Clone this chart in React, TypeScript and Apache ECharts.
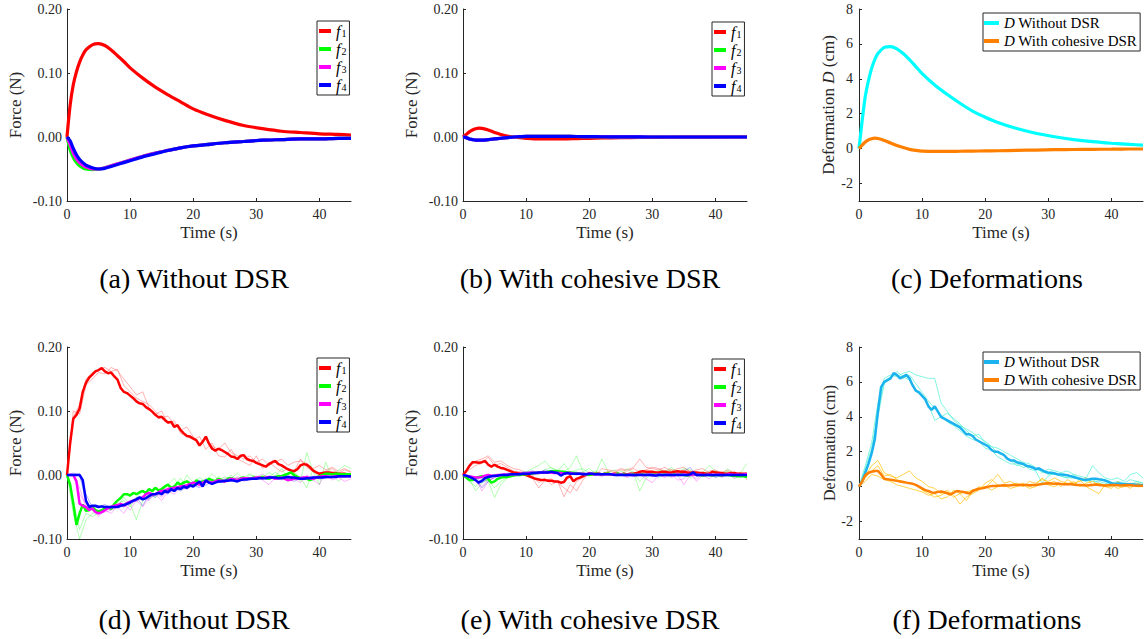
import React, { useEffect, useRef } from "react";
import * as echarts from "echarts";

// ---------- time grids ----------
const T_SMOOTH = [0, 0.5, 1, 1.5, 2, 2.5, 3, 4, 5, 6, 7, 8, 9, 10, 12, 14, 16, 18, 20, 22, 25, 28, 31, 34, 37, 40, 43, 45];
const T_HALF = Array.from({ length: 91 }, (_, i) => i * 0.5);
const T_SEC = Array.from({ length: 46 }, (_, i) => i);

const X_TICKS = [0, 10, 20, 30, 40];
const FORCE_TICKS = [-0.1, 0, 0.1, 0.2];
const DEF_TICKS = [-2, 0, 2, 4, 6, 8];

// ---------- (a) simulation without DSR ----------
const A_F1 = [0, 0.05, 0.082, 0.102, 0.117, 0.128, 0.136, 0.144, 0.146, 0.143, 0.136, 0.127, 0.118, 0.108, 0.092, 0.078, 0.066, 0.055, 0.044, 0.036, 0.026, 0.018, 0.013, 0.009, 0.007, 0.005, 0.004, 0.003];
const A_F2 = [0, -0.02, -0.032, -0.04, -0.045, -0.048, -0.05, -0.051, -0.05, -0.048, -0.045, -0.042, -0.039, -0.036, -0.03, -0.025, -0.021, -0.017, -0.014, -0.012, -0.009, -0.007, -0.005, -0.004, -0.003, -0.003, -0.002, -0.002];
const A_F3 = [0, -0.012, -0.025, -0.034, -0.04, -0.044, -0.047, -0.05, -0.05, -0.048, -0.045, -0.042, -0.039, -0.036, -0.03, -0.025, -0.021, -0.017, -0.014, -0.012, -0.009, -0.007, -0.005, -0.004, -0.003, -0.003, -0.002, -0.002];
const A_F4 = [0, -0.006, -0.018, -0.028, -0.035, -0.04, -0.044, -0.048, -0.05, -0.049, -0.046, -0.043, -0.04, -0.037, -0.031, -0.026, -0.021, -0.017, -0.014, -0.012, -0.009, -0.007, -0.005, -0.004, -0.003, -0.003, -0.002, -0.002];

// ---------- (b) simulation with cohesive DSR ----------
const B_F1 = [0, 0.004, 0.008, 0.011, 0.013, 0.014, 0.0135, 0.011, 0.007, 0.004, 0.0015, 0, -0.001, -0.002, -0.003, -0.003, -0.003, -0.0025, -0.002, -0.0015, -0.001, -0.0008, -0.0005, -0.0003, -0.0002, -0.0001, 0, 0];
const B_F2 = [0, -0.001, -0.003, -0.004, -0.005, -0.005, -0.005, -0.004, -0.003, -0.002, -0.001, 0, 0.0005, 0.001, 0.001, 0.001, 0.001, 0.0008, 0.0006, 0.0004, 0.0002, 0.0001, 0, 0, 0, 0, 0, 0];
const B_F3 = [0, -0.001, -0.003, -0.004, -0.005, -0.005, -0.005, -0.004, -0.003, -0.002, -0.001, 0, 0.0005, 0.001, 0.001, 0.001, 0.001, 0.0008, 0.0006, 0.0004, 0.0002, 0.0001, 0, 0, 0, 0, 0, 0];
const B_F4 = [0, -0.001, -0.003, -0.004, -0.005, -0.005, -0.005, -0.004, -0.003, -0.002, -0.001, 0, 0.0005, 0.001, 0.001, 0.001, 0.001, 0.0008, 0.0006, 0.0004, 0.0002, 0.0001, 0, 0, 0, 0, 0, 0];

// ---------- (c) simulated deformations ----------
const C_WITHOUT = [0, 1.6, 3.0, 3.9, 4.6, 5.1, 5.45, 5.8, 5.85, 5.72, 5.45, 5.1, 4.7, 4.3, 3.65, 3.1, 2.6, 2.15, 1.8, 1.5, 1.15, 0.88, 0.68, 0.52, 0.4, 0.31, 0.24, 0.2];
const C_WITH = [0, 0.2, 0.38, 0.5, 0.57, 0.6, 0.58, 0.47, 0.32, 0.18, 0.06, -0.04, -0.1, -0.14, -0.16, -0.16, -0.15, -0.14, -0.13, -0.12, -0.1, -0.08, -0.06, -0.05, -0.04, -0.03, -0.02, -0.02];

// ---------- (d) experiment without DSR (mean, 0.5 s) ----------
const D_F1 = [0, 0.05, 0.088, 0.094, 0.104, 0.13, 0.144, 0.152, 0.157, 0.162, 0.164, 0.167, 0.162, 0.159, 0.16, 0.154, 0.149, 0.136, 0.13, 0.128, 0.124, 0.12, 0.115, 0.112, 0.111, 0.106, 0.103, 0.099, 0.094, 0.09, 0.091, 0.086, 0.082, 0.083, 0.075, 0.078, 0.07, 0.065, 0.061, 0.06, 0.057, 0.054, 0.046, 0.052, 0.06, 0.049, 0.041, 0.038, 0.041, 0.039, 0.036, 0.033, 0.029, 0.028, 0.025, 0.03, 0.031, 0.025, 0.023, 0.022, 0.019, 0.017, 0.015, 0.013, 0.017, 0.02, 0.022, 0.017, 0.015, 0.012, 0.009, 0.007, 0.006, 0.009, 0.015, 0.017, 0.016, 0.012, 0.007, 0.004, 0.002, 0.003, 0.004, 0.004, 0.003, 0.003, 0.002, 0.002, 0.002, 0.001, 0.001];
const D_F2 = [0, -0.015, -0.045, -0.078, -0.06, -0.046, -0.056, -0.055, -0.05, -0.055, -0.057, -0.055, -0.052, -0.05, -0.053, -0.045, -0.04, -0.036, -0.03, -0.03, -0.032, -0.028, -0.03, -0.027, -0.025, -0.028, -0.022, -0.025, -0.02, -0.024, -0.022, -0.018, -0.015, -0.02, -0.018, -0.012, -0.015, -0.012, -0.01, -0.013, -0.015, -0.008, -0.012, -0.01, -0.01, -0.006, -0.008, -0.01, -0.006, -0.008, -0.01, -0.006, -0.005, -0.007, -0.008, -0.005, -0.004, -0.006, -0.006, -0.004, -0.005, -0.004, -0.003, -0.005, -0.006, -0.004, -0.003, -0.002, -0.002, 0, 0.002, 0.004, 0, -0.003, -0.005, -0.006, -0.006, -0.008, -0.006, -0.004, -0.002, 0, 0.002, 0.002, 0.001, 0.002, 0.002, 0.001, 0.001, 0.001, 0.001];
const D_F3 = [0, 0, 0, -0.01, -0.045, -0.048, -0.05, -0.055, -0.052, -0.058, -0.06, -0.058, -0.055, -0.052, -0.05, -0.048, -0.047, -0.045, -0.048, -0.044, -0.042, -0.04, -0.038, -0.036, -0.035, -0.03, -0.028, -0.03, -0.03, -0.027, -0.025, -0.024, -0.022, -0.021, -0.02, -0.019, -0.018, -0.017, -0.016, -0.014, -0.012, -0.013, -0.015, -0.012, -0.01, -0.011, -0.012, -0.01, -0.008, -0.009, -0.01, -0.008, -0.006, -0.007, -0.008, -0.006, -0.005, -0.005, -0.006, -0.005, -0.004, -0.004, -0.005, -0.004, -0.003, -0.004, -0.006, -0.005, -0.004, -0.006, -0.008, -0.007, -0.006, -0.005, -0.005, -0.004, -0.004, -0.005, -0.006, -0.004, -0.003, -0.002, -0.002, -0.003, -0.003, -0.002, -0.002, -0.002, -0.002, -0.002, -0.002];
const D_F4 = [0, 0, 0, 0, 0, -0.008, -0.04, -0.05, -0.048, -0.048, -0.05, -0.049, -0.05, -0.05, -0.05, -0.05, -0.05, -0.048, -0.047, -0.045, -0.043, -0.04, -0.038, -0.035, -0.038, -0.036, -0.033, -0.03, -0.03, -0.028, -0.03, -0.025, -0.027, -0.022, -0.025, -0.02, -0.022, -0.018, -0.02, -0.016, -0.018, -0.014, -0.01, -0.018, -0.008, -0.012, -0.014, -0.012, -0.01, -0.01, -0.009, -0.009, -0.008, -0.009, -0.01, -0.008, -0.007, -0.007, -0.006, -0.006, -0.006, -0.005, -0.005, -0.005, -0.004, -0.004, -0.004, -0.005, -0.005, -0.004, -0.003, -0.004, -0.004, -0.005, -0.006, -0.006, -0.005, -0.005, -0.004, -0.004, -0.004, -0.004, -0.003, -0.003, -0.003, -0.003, -0.002, -0.002, -0.002, -0.002, -0.002];

// (d) individual trials (1 s)
const D_F1_TRIAL_A = [0, 0.09, 0.11, 0.15, 0.16, 0.165, 0.168, 0.162, 0.165, 0.14, 0.13, 0.12, 0.115, 0.11, 0.1, 0.09, 0.092, 0.08, 0.07, 0.075, 0.06, 0.05, 0.058, 0.045, 0.04, 0.05, 0.035, 0.03, 0.025, 0.03, 0.02, 0.025, 0.015, 0.02, 0.025, 0.015, 0.02, 0.022, 0.018, 0.01, 0.015, 0.008, 0.012, 0.006, 0.01, 0.005];
const D_F1_TRIAL_B = [0, 0.1, 0.095, 0.14, 0.15, 0.16, 0.158, 0.168, 0.163, 0.15, 0.138, 0.125, 0.13, 0.105, 0.095, 0.1, 0.08, 0.085, 0.065, 0.06, 0.055, 0.06, 0.04, 0.05, 0.03, 0.028, 0.04, 0.025, 0.02, 0.015, 0.03, 0.01, 0.02, 0.012, 0.005, 0.01, 0.006, 0.025, 0.012, 0.005, 0.002, 0.006, 0.01, 0.003, 0.008, 0.004];
const D_F2_TRIAL_A = [0, -0.06, -0.1, -0.07, -0.06, -0.058, -0.05, -0.055, -0.045, -0.04, -0.05, -0.035, -0.025, -0.038, -0.02, -0.028, -0.015, -0.005, -0.02, 0, -0.012, -0.004, -0.01, 0.002, -0.008, -0.003, -0.006, 0.003, -0.006, 0, -0.002, -0.004, 0.004, -0.002, 0.01, -0.006, 0, -0.01, 0.035, 0.005, -0.015, 0.02, -0.005, 0.008, 0.015, 0.01];
const D_F2_TRIAL_B = [0, -0.04, -0.085, -0.06, -0.065, -0.06, -0.055, -0.048, -0.05, -0.035, -0.045, -0.07, -0.04, -0.03, -0.035, -0.02, -0.025, -0.018, -0.005, -0.02, -0.01, -0.015, -0.005, -0.012, -0.002, -0.01, 0, -0.008, -0.004, 0.002, -0.006, 0, -0.003, 0.004, -0.002, -0.01, 0.004, -0.004, -0.02, 0.01, -0.008, 0, 0.005, -0.01, 0, 0.002];
const D_F3_TRIAL_A = [0, 0, -0.02, -0.05, -0.055, -0.06, -0.058, -0.055, -0.05, -0.06, -0.045, -0.04, -0.05, -0.035, -0.03, -0.04, -0.025, -0.03, -0.02, -0.022, -0.015, -0.018, -0.01, -0.015, -0.006, -0.012, -0.008, -0.004, -0.01, -0.006, -0.002, -0.008, -0.015, -0.004, 0, -0.01, -0.006, -0.012, 0, -0.008, -0.015, 0.005, -0.008, -0.004, -0.01, -0.006];
const D_F3_TRIAL_B = [0, 0, -0.03, -0.045, -0.05, -0.065, -0.055, -0.06, -0.048, -0.045, -0.055, -0.038, -0.035, -0.04, -0.028, -0.035, -0.02, -0.025, -0.015, -0.02, -0.01, -0.015, -0.008, -0.01, -0.012, -0.005, -0.01, -0.003, -0.006, -0.008, -0.004, 0.002, -0.006, -0.002, -0.008, 0, -0.004, -0.006, -0.002, -0.004, 0, -0.003, 0.002, -0.002, 0, -0.001];
const D_F4_TRIAL_A = [0, 0, 0.002, -0.03, -0.05, -0.048, -0.052, -0.05, -0.048, -0.05, -0.045, -0.035, -0.048, -0.03, -0.035, -0.025, -0.03, -0.02, -0.025, -0.018, -0.015, -0.02, -0.01, -0.015, -0.008, -0.012, -0.006, -0.01, -0.004, -0.008, -0.006, -0.003, -0.006, -0.002, -0.004, -0.006, -0.01, -0.004, -0.002, -0.006, -0.003, -0.005, -0.002, -0.004, -0.003, -0.002];
const D_F4_TRIAL_B = [0, 0.003, 0, -0.04, -0.052, -0.05, -0.046, -0.052, -0.05, -0.045, -0.04, -0.042, -0.033, -0.038, -0.028, -0.032, -0.024, -0.026, -0.018, -0.022, -0.016, -0.012, -0.016, -0.01, -0.012, -0.008, -0.01, -0.006, -0.008, -0.004, -0.006, -0.004, -0.003, -0.005, -0.002, -0.004, -0.006, -0.003, -0.004, -0.002, -0.003, -0.004, -0.002, -0.002, -0.003, -0.002];

// ---------- (e) experiment with cohesive DSR (mean, 0.5 s) ----------
const E_F1 = [0, 0.006, 0.014, 0.02, 0.02, 0.019, 0.02, 0.022, 0.016, 0.013, 0.016, 0.013, 0.011, 0.01, 0.008, 0.006, 0.004, 0.003, 0.002, 0.001, 0, -0.002, -0.004, -0.006, -0.007, -0.008, -0.008, -0.009, -0.009, -0.01, -0.01, -0.012, -0.011, -0.004, -0.002, -0.01, -0.006, -0.004, -0.002, 0.001, 0.002, 0.001, 0.002, 0.002, 0.001, 0.002, 0.002, 0.001, 0.002, 0.002, 0.001, 0.002, 0.001, 0.002, 0.002, 0.003, 0.005, 0.006, 0.005, 0.005, 0.005, 0.004, 0.004, 0.005, 0.005, 0.004, 0.004, 0.005, 0.006, 0.005, 0.005, 0.004, 0.003, 0.004, 0.004, 0.003, 0.003, 0.002, 0.002, 0.005, 0.004, 0.003, 0.003, 0.002, 0.002, 0.003, 0.003, 0.002, 0.002, 0.002, 0.002];
const E_F2 = [0, -0.004, -0.008, -0.008, -0.005, -0.003, -0.002, -0.004, -0.006, -0.012, -0.01, -0.006, -0.004, -0.003, -0.003, -0.002, -0.001, 0, 0, 0.001, 0.001, 0.002, 0.002, 0.003, 0.003, 0.004, 0.004, 0.005, 0.006, 0.006, 0.006, 0.005, 0.005, 0.004, 0.004, 0.003, 0.003, 0.002, 0.002, 0.001, 0, 0.001, 0.002, 0.002, 0.001, 0.002, 0.002, 0.001, 0.001, 0.002, 0.001, 0.001, 0, 0.001, 0.001, 0, 0.001, 0.001, 0, 0.001, 0, 0.001, 0.001, 0, 0.001, 0, 0, 0.001, 0, 0.001, 0, -0.001, 0, 0.001, 0, 0, -0.001, 0, 0, -0.001, 0, 0, -0.001, 0, 0, -0.001, -0.001, -0.002, -0.002, -0.002, -0.003];
const E_F3 = [0, -0.001, -0.002, -0.003, -0.004, -0.004, -0.003, -0.001, 0, -0.001, -0.001, 0, 0, 0.001, 0, 0.001, 0.001, 0.001, 0.002, 0.002, 0.002, 0.003, 0.003, 0.003, 0.003, 0.004, 0.004, 0.004, 0.004, 0.003, 0.003, 0.003, 0.002, 0.003, 0.003, 0.002, 0.002, 0.002, 0.002, 0.001, 0.002, 0.002, 0.001, 0.002, 0.001, 0.001, 0.001, 0.001, 0.001, 0, 0.001, 0, 0, 0.001, 0, 0, 0.001, 0, 0, 0.001, 0, 0, 0.001, 0, 0, 0.001, 0, 0, 0.001, 0, 0.001, 0, 0, 0.001, 0, 0.001, 0, 0, 0.001, 0, 0, 0.001, 0, 0, 0.001, 0.001, 0, 0.001, 0, 0.001, 0.001];
const E_F4 = [0, -0.001, -0.003, -0.005, -0.008, -0.012, -0.009, -0.005, -0.003, -0.002, -0.001, -0.001, 0, 0, 0, 0.001, 0.001, 0.001, 0.001, 0.002, 0.002, 0.002, 0.003, 0.003, 0.004, 0.004, 0.004, 0.004, 0.005, 0.004, 0.003, -0.001, 0.002, 0.003, 0.002, 0.002, 0.002, 0.002, 0.001, 0.001, 0.002, 0.002, 0.001, 0.001, 0.001, 0.001, 0.001, 0.001, 0, 0, 0, 0, 0, 0, 0, 0, 0, 0, 0, 0, 0, -0.001, 0, 0, 0, 0, 0, 0, 0, 0, 0, 0, 0.001, 0.004, 0, 0, 0, 0, 0, 0, 0, 0, 0, 0, 0, 0, 0, 0, 0, 0, 0];

// (e) individual trials (1 s)
const E_F1_TRIAL_A = [0, 0.012, 0.022, 0.025, 0.03, 0.02, 0.022, 0.015, 0.01, 0.008, 0.004, 0, -0.012, -0.005, -0.015, -0.01, -0.034, -0.015, -0.025, -0.008, 0.005, 0, 0.01, 0.008, 0.006, 0.01, 0.008, 0.012, 0.025, 0.012, 0.01, 0.008, 0.012, 0.006, 0.01, 0.012, 0.005, 0.008, 0.01, 0.003, 0.006, 0.004, 0.008, 0.002, 0.004, -0.008];
const E_F1_TRIAL_B = [0, 0.008, 0.015, 0.018, 0.028, 0.015, 0.018, 0.012, 0.006, 0.005, 0.002, -0.005, -0.02, -0.008, -0.006, -0.012, -0.02, -0.028, -0.01, -0.004, 0, 0.004, 0.002, 0.006, 0.004, 0.008, 0.006, 0.01, 0.005, 0.008, 0.012, 0.01, 0.006, 0.009, 0.004, 0.008, 0.006, 0.004, 0.002, 0.006, 0.008, 0.002, 0.005, 0.003, 0.001, -0.004];
const E_F2_TRIAL_A = [0, -0.01, -0.018, -0.005, -0.01, -0.035, -0.015, -0.005, 0, 0.003, 0.005, 0.01, 0.015, 0.022, 0.01, 0.008, 0.005, 0.012, 0.03, 0.005, 0.01, 0.002, 0.025, 0.005, 0.008, 0, 0.01, 0.004, -0.025, -0.005, 0.002, 0.008, 0.005, 0.012, 0.004, 0.01, 0.008, 0, 0.004, 0.015, 0.006, 0.002, 0.01, 0, 0.004, 0.018];
const E_F2_TRIAL_B = [0, -0.006, -0.025, -0.012, -0.008, -0.02, -0.01, -0.004, 0.002, 0.004, 0.002, 0.006, 0.004, 0.008, 0.012, 0.006, 0.018, 0.004, 0.008, 0.01, 0.003, 0.006, 0.002, 0.004, 0, 0.006, 0.002, 0.005, -0.01, 0, 0.003, -0.004, 0.004, 0.008, 0, 0.006, -0.005, 0.004, 0.002, 0.005, -0.003, 0.002, 0.006, -0.006, 0.002, -0.004];
const E_F3_TRIAL_A = [0, -0.005, -0.01, -0.018, -0.008, -0.004, 0, 0.002, 0.004, 0.002, 0.004, 0.006, 0.004, 0.002, 0.006, 0.004, 0.002, 0.004, 0, 0.002, 0.004, 0, -0.002, 0.002, 0, 0.003, -0.004, 0, 0.002, -0.006, -0.012, 0, -0.004, 0.002, -0.008, -0.006, 0.004, -0.01, 0, -0.006, 0.002, -0.004, 0.004, 0, -0.003, 0.002];
const E_F3_TRIAL_B = [0, -0.002, -0.006, -0.025, -0.01, -0.003, -0.002, 0, 0.002, 0.004, 0.002, 0.003, 0.005, 0.006, 0.004, 0.002, 0.003, 0.005, 0.002, 0, 0.002, 0.001, 0, 0.003, 0.001, 0, 0.002, -0.002, 0, 0.002, -0.003, 0.001, 0.002, -0.004, 0, -0.015, 0, -0.006, 0.002, -0.002, 0, -0.003, 0.002, -0.005, 0, 0];
const E_F4_TRIAL_A = [0, -0.002, -0.008, -0.02, -0.01, -0.004, 0, 0.003, 0.002, 0.004, 0.005, 0.006, 0.004, 0.008, 0.005, 0.002, 0.004, 0.003, 0.002, 0.004, 0.002, 0, 0.002, 0.001, 0, 0.002, 0, -0.002, 0, 0.002, 0, -0.002, 0.001, 0, 0.002, 0.006, 0.012, -0.002, 0, 0.002, -0.004, 0, 0.001, -0.002, 0, 0.001];
const E_F4_TRIAL_B = [0, -0.001, -0.004, -0.012, -0.006, -0.002, 0, 0.001, 0.003, 0.002, 0.004, 0.003, 0.005, 0.004, 0.006, 0.003, 0.002, 0.003, 0.001, 0.002, 0.003, 0.001, 0, 0.002, 0, 0.001, -0.001, 0, 0.001, 0, -0.002, 0, 0.001, -0.001, 0, 0.003, 0.005, 0, -0.002, 0, 0.001, -0.001, 0, 0.001, 0, 0];

// ---------- (f) measured deformations (mean, 0.5 s) ----------
const F_WITHOUT = [0, 0.3, 0.8, 1.3, 1.9, 2.7, 4.3, 5.7, 6.0, 6.1, 6.2, 6.5, 6.4, 6.2, 6.3, 6.4, 6.2, 5.8, 5.5, 5.4, 5.2, 5.0, 4.6, 4.4, 4.6, 4.3, 4.0, 3.9, 3.8, 3.7, 3.6, 3.5, 3.4, 3.2, 3.0, 3.0, 2.9, 2.7, 2.6, 2.5, 2.4, 2.3, 2.1, 2.0, 2.0, 1.9, 1.8, 1.6, 1.5, 1.5, 1.4, 1.35, 1.3, 1.2, 1.15, 1.1, 1.0, 1.05, 0.95, 0.85, 0.8, 0.8, 0.75, 0.7, 0.7, 0.68, 0.65, 0.6, 0.55, 0.5, 0.45, 0.4, 0.4, 0.42, 0.45, 0.45, 0.42, 0.4, 0.35, 0.28, 0.2, 0.15, 0.18, 0.16, 0.14, 0.14, 0.13, 0.12, 0.11, 0.1, 0.08];
const F_WITH = [0, 0.3, 0.65, 0.8, 0.85, 0.9, 0.9, 0.7, 0.45, 0.42, 0.4, 0.37, 0.33, 0.3, 0.27, 0.23, 0.2, 0.16, 0.1, 0, -0.1, -0.2, -0.25, -0.33, -0.35, -0.3, -0.28, -0.32, -0.38, -0.45, -0.35, -0.25, -0.28, -0.3, -0.35, -0.4, -0.25, -0.18, -0.12, -0.1, -0.05, 0, 0.03, 0.04, 0.05, 0.06, 0.08, 0.07, 0.08, 0.1, 0.1, 0.09, 0.1, 0.1, 0.08, 0.1, 0.1, 0.12, 0.15, 0.18, 0.2, 0.18, 0.17, 0.18, 0.15, 0.14, 0.13, 0.15, 0.12, 0.1, 0.1, 0.08, 0.06, 0.08, 0.1, 0.12, 0.1, 0.08, 0.06, 0.08, 0.1, 0.1, 0.08, 0.06, 0.08, 0.1, 0.08, 0.06, 0.05, 0.05, 0.05];

// (f) individual trials (1 s)
const F_WITHOUT_TRIAL_A = [0, 1.2, 2.5, 4.8, 6.2, 6.4, 6.3, 6.5, 6.6, 6.4, 6.3, 6.2, 6.2, 4.8, 4.3, 3.8, 3.5, 3.3, 3.1, 2.8, 2.6, 2.3, 2.2, 2.0, 1.8, 1.6, 1.4, 1.3, 1.1, 0.8, 1.0, 0.9, 0.8, 0.9, 0.7, 0.6, 0.5, 1.2, 0.8, 0.5, 0.4, 0.5, 0.3, 0.7, 0.8, 0.5];
const F_WITHOUT_TRIAL_B = [0, 1.0, 2.2, 4.0, 5.9, 6.2, 6.6, 6.3, 6.1, 5.6, 5.2, 4.7, 3.8, 4.0, 4.2, 3.9, 3.6, 3.2, 2.9, 3.0, 2.5, 2.3, 1.9, 1.8, 1.5, 1.2, 1.3, 1.0, 0.9, 0.2, 0.6, 0.8, 0.6, 0.5, 0.7, 0.4, 0.3, 0.4, 0.2, 0.1, 0.2, 0.3, 0.2, 0.4, 0.3, 0.2];
const F_WITHOUT_TRIAL_C = [0, 0.8, 1.9, 4.4, 6.0, 6.3, 6.4, 6.2, 6.4, 5.9, 5.4, 4.9, 4.5, 4.1, 3.7, 3.5, 3.2, 2.9, 2.7, 2.6, 2.2, 2.1, 1.7, 1.5, 1.3, 1.3, 1.1, 1.2, 1.0, 0.9, 0.7, 0.7, 0.6, 0.5, 0.5, 0.4, 0.4, 0.3, 0.3, 0.2, 0.1, 0.2, 0.1, 0.1, 0.3, 0.2];
const F_WITH_TRIAL_A = [0, 0.6, 1.2, 1.5, 0.8, 0.6, 0.5, 0.7, 0.9, 0.5, 0.3, 0, -0.1, -0.4, -0.2, -0.5, -1.0, -0.6, -0.4, -0.2, 0.2, 0.4, 0.1, 0, 0.1, 0.2, 0, 0.3, 0.2, 0.4, 0.3, 0.5, 0.3, 0.2, 0.1, 0.4, 0, -0.2, -0.4, 0.1, 0, 0.2, 0.1, -0.1, 0.2, 0.1];
const F_WITH_TRIAL_B = [0, 0.5, 0.9, 1.2, 0.6, 0.7, 0.4, 0.3, 0.2, 0.1, -0.2, -0.4, -0.6, -0.5, -0.3, -0.6, -0.4, -0.8, -0.3, 0, -0.1, 0.3, 0.7, 0.2, 0.3, 0.1, 0.2, 0, 0.1, 0.5, 0.2, 0.3, 0, 0.4, 0.2, 0.3, 0.5, 0.1, 0.2, 0, -0.1, 0.3, 0, 0.2, 0.1, 0];
const F_WITH_TRIAL_C = [0, 0.3, 0.7, 0.6, 0.4, 0.3, 0.1, 0, -0.1, -0.2, -0.3, -0.5, -0.4, -0.7, -0.6, -0.2, -0.4, -0.3, -0.2, -0.1, 0, -0.2, 0, 0.1, -0.1, 0, 0.1, -0.1, 0, 0.2, 0.1, 0, 0.2, 0.1, 0.3, 0, 0.2, 0.3, 0.1, 0, 0.1, -0.1, 0, 0.1, 0, 0];

const CAPTIONS = ["(a) Without DSR", "(b) With cohesive DSR", "(c) Deformations", "(d) Without DSR", "(e) With cohesive DSR", "(f) Deformations"];

// ---------- styling / layout ----------
const FONT = "Liberation Serif";
const INK = "#262626";
const C_F = ["#ff0000", "#00ff00", "#ff00ff", "#0000ff"];

const GRIDS = [
  { left: 67, top: 9 },
  { left: 463, top: 9 },
  { left: 859, top: 9 },
  { left: 67, top: 347 },
  { left: 463, top: 347 },
  { left: 859, top: 347 },
];
const CAPTION_POS = [
  [194, 278], [590, 278], [987, 278],
  [194, 619], [590, 619], [987, 619],
];
const LEGEND_POS = [
  [317, 21], [712, 22], [983, 13],
  [317, 358], [712, 359], [983, 352],
];

const zip = (t: number[], v: number[]) => t.map((x, i) => [x, v[i]]);

function mkLine(name: string, idx: number, t: number[], v: number[], color: string, width: number, extra: any = {}) {
  return {
    type: "line",
    name,
    xAxisIndex: idx,
    yAxisIndex: idx,
    data: zip(t, v),
    symbol: "none",
    showSymbol: false,
    silent: true,
    itemStyle: { color },
    lineStyle: { color, width, opacity: extra.opacity ?? 1 },
    smooth: extra.smooth ?? false,
    z: extra.z ?? 3,
    emphasis: { disabled: true },
  };
}

function xAxisFor(idx: number) {
  return {
    type: "value",
    gridIndex: idx,
    min: 0,
    max: 45,
    interval: 10,
    name: "Time (s)",
    nameLocation: "middle",
    nameGap: 23,
    nameTextStyle: { fontFamily: FONT, fontSize: 17, color: INK },
    axisLine: { onZero: false, lineStyle: { color: INK, width: 1 } },
    axisTick: { inside: true, length: 3, customValues: X_TICKS, lineStyle: { color: INK } },
    axisLabel: { customValues: X_TICKS, margin: 6, fontFamily: FONT, fontSize: 14, color: INK },
    splitLine: { show: false },
  };
}

function forceAxis(idx: number, fontSize: number) {
  return {
    type: "value",
    gridIndex: idx,
    min: -0.1,
    max: 0.2,
    interval: 0.1,
    name: "Force (N)",
    nameLocation: "middle",
    nameGap: 43,
    nameTextStyle: { fontFamily: FONT, fontSize, color: INK },
    axisLine: { show: true, lineStyle: { color: INK, width: 1 } },
    axisTick: { show: true, inside: true, length: 3, customValues: FORCE_TICKS, lineStyle: { color: INK } },
    axisLabel: {
      customValues: FORCE_TICKS,
      margin: 5,
      fontFamily: FONT,
      fontSize: 14,
      color: INK,
      formatter: (v: number) => (Math.abs(v) < 1e-9 ? 0 : v).toFixed(2),
    },
    splitLine: { show: false },
  };
}

function defAxis(idx: number, name: string, fontSize: number) {
  return {
    type: "value",
    gridIndex: idx,
    min: -3,
    max: 8,
    name,
    nameLocation: "middle",
    nameGap: 20,
    nameTextStyle: {
      fontFamily: FONT,
      fontSize,
      color: INK,
      rich: {
        n: { fontFamily: FONT, fontSize, color: INK },
        i: { fontFamily: FONT, fontSize, color: INK, fontStyle: "italic" },
      },
    },
    axisLine: { show: true, lineStyle: { color: INK, width: 1 } },
    axisTick: { show: true, inside: true, length: 3, customValues: DEF_TICKS, lineStyle: { color: INK } },
    axisLabel: { customValues: DEF_TICKS, margin: 6, fontFamily: FONT, fontSize: 14, color: INK, formatter: (v: number) => String(v) },
    splitLine: { show: false },
  };
}

function fLegend(idx: number, prefix: string) {
  const [left, top] = LEGEND_POS[idx];
  return {
    data: [1, 2, 3, 4].map((k) => prefix + k),
    left,
    top,
    orient: "vertical",
    icon: "rect",
    itemWidth: 12,
    itemHeight: 4,
    itemGap: 2,
    padding: [2, 3, 2, 2],
    borderColor: INK,
    borderWidth: 1,
    backgroundColor: "#fff",
    selectedMode: false,
    formatter: (name: string) => `{i|f}{s|${name.slice(1)}}`,
    textStyle: {
      fontFamily: FONT,
      fontSize: 16,
      color: "#000",
      rich: {
        i: { fontFamily: FONT, fontSize: 16, fontStyle: "italic", color: "#000", lineHeight: 15.5, verticalAlign: "middle" },
        s: { fontFamily: FONT, fontSize: 10, color: "#000", lineHeight: 15.5, verticalAlign: "bottom", padding: [0, 0, 0, 1] },
      },
    },
  };
}

function dLegend(idx: number, prefix: string) {
  const [left, top] = LEGEND_POS[idx];
  return {
    data: [prefix + "W", prefix + "C"],
    left,
    top,
    orient: "vertical",
    icon: "rect",
    itemWidth: 15,
    itemHeight: 4,
    itemGap: 2,
    padding: [2, 3, 2, 1],
    borderColor: INK,
    borderWidth: 1,
    backgroundColor: "#fff",
    selectedMode: false,
    formatter: (name: string) => (name.endsWith("W") ? "{i|D} Without DSR" : "{i|D} With cohesive DSR"),
    textStyle: {
      fontFamily: FONT,
      fontSize: 15,
      lineHeight: 16,
      color: "#000",
      rich: { i: { fontFamily: FONT, fontSize: 15, lineHeight: 16, fontStyle: "italic", color: "#000" } },
    },
  };
}

function buildOption() {
  const series: any[] = [];
  // (a)
  [A_F1, A_F2, A_F3, A_F4].forEach((v, k) => series.push(mkLine("a" + (k + 1), 0, T_SMOOTH, v, C_F[k], 3.2, { smooth: 0.3, z: 3 + k })));
  // (b)
  [B_F1, B_F2, B_F3, B_F4].forEach((v, k) => series.push(mkLine("b" + (k + 1), 1, T_SMOOTH, v, C_F[k], 3.2, { smooth: 0.3, z: 3 + k })));
  // (c)
  series.push(mkLine("cW", 2, T_SMOOTH, C_WITHOUT, "#00ffff", 3.2, { smooth: 0.3 }));
  series.push(mkLine("cC", 2, T_SMOOTH, C_WITH, "#ff8000", 3.2, { smooth: 0.3, z: 4 }));
  // (d) trials
  const dTrials = [
    [D_F1_TRIAL_A, D_F1_TRIAL_B],
    [D_F2_TRIAL_A, D_F2_TRIAL_B],
    [D_F3_TRIAL_A, D_F3_TRIAL_B],
    [D_F4_TRIAL_A, D_F4_TRIAL_B],
  ];
  dTrials.forEach((arr, k) => arr.forEach((v, j) => series.push(mkLine(`dt${k}${j}`, 3, T_SEC, v, C_F[k], 1, { opacity: 0.3, z: 2 }))));
  [D_F1, D_F2, D_F3, D_F4].forEach((v, k) => series.push(mkLine("d" + (k + 1), 3, T_HALF, v, C_F[k], 2.5, { z: 3 + k })));
  // (e) trials
  const eTrials = [
    [E_F1_TRIAL_A, E_F1_TRIAL_B],
    [E_F2_TRIAL_A, E_F2_TRIAL_B],
    [E_F3_TRIAL_A, E_F3_TRIAL_B],
    [E_F4_TRIAL_A, E_F4_TRIAL_B],
  ];
  eTrials.forEach((arr, k) => arr.forEach((v, j) => series.push(mkLine(`et${k}${j}`, 4, T_SEC, v, C_F[k], 1, { opacity: 0.3, z: 2 }))));
  [E_F1, E_F2, E_F3, E_F4].forEach((v, k) => series.push(mkLine("e" + (k + 1), 4, T_HALF, v, C_F[k], 2.5, { z: 3 + k })));
  // (f) trials
  [F_WITHOUT_TRIAL_A, F_WITHOUT_TRIAL_B, F_WITHOUT_TRIAL_C].forEach((v, j) => series.push(mkLine(`ftw${j}`, 5, T_SEC, v, "#40f0d0", 1, { opacity: 0.65, z: 2 })));
  [F_WITH_TRIAL_A, F_WITH_TRIAL_B, F_WITH_TRIAL_C].forEach((v, j) => series.push(mkLine(`ftc${j}`, 5, T_SEC, v, "#ffc000", 1, { opacity: 0.7, z: 2 })));
  series.push(mkLine("fW", 5, T_HALF, F_WITHOUT, "#1ab2ef", 2.5, { z: 4 }));
  series.push(mkLine("fC", 5, T_HALF, F_WITH, "#ff7f00", 2.5, { z: 4 }));

  return {
    animation: false,
    backgroundColor: "#ffffff",
    grid: GRIDS.map((g) => ({ left: g.left, top: g.top, width: 284, height: 192, containLabel: false, outerBoundsMode: "none" })),
    xAxis: [0, 1, 2, 3, 4, 5].map(xAxisFor),
    yAxis: [
      forceAxis(0, 17),
      forceAxis(1, 17),
      defAxis(2, "{n|Deformation }{i|D}{n| (cm)}", 17),
      forceAxis(3, 17),
      forceAxis(4, 17),
      defAxis(5, "{n|Deformation (cm)}", 16),
    ],
    legend: [fLegend(0, "a"), fLegend(1, "b"), dLegend(2, "c"), fLegend(3, "d"), fLegend(4, "e"), dLegend(5, "f")],
    series,
    graphic: {
      elements: CAPTIONS.map((text, i) => ({
        type: "text",
        x: CAPTION_POS[i][0],
        y: CAPTION_POS[i][1],
        silent: true,
        style: { text, fontFamily: FONT, fontSize: 28, fill: "#000", align: "center", verticalAlign: "middle" },
      })),
    },
  };
}

export default function App() {
  const ref = useRef<HTMLDivElement>(null);
  useEffect(() => {
    if (!ref.current) return;
    const chart = echarts.init(ref.current, null, { renderer: "svg" });
    chart.setOption(buildOption() as any);
    return () => chart.dispose();
  }, []);
  return (
    <div
      ref={ref}
      style={{ position: "fixed", left: 0, top: 0, width: 1146, height: 639, background: "#fff" }}
    />
  );
}
